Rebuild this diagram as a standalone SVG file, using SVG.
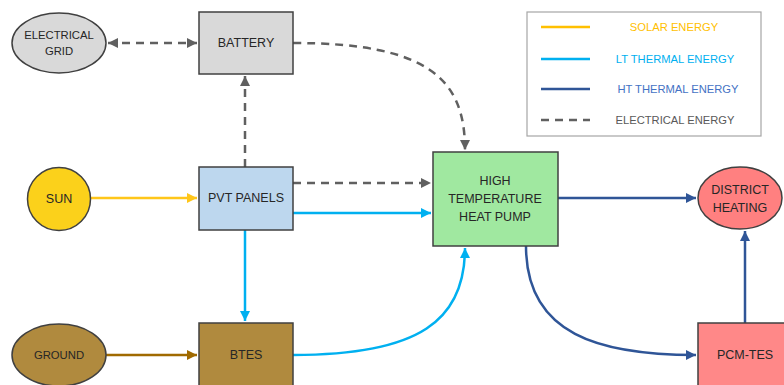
<svg xmlns="http://www.w3.org/2000/svg" width="784" height="385" viewBox="0 0 784 385">
<defs>
<style>
.node{stroke:#404040;stroke-width:1.5}
.t{font-family:"Liberation Sans",Arial,sans-serif;font-size:12.5px;fill:#262626;text-anchor:middle;dominant-baseline:central}
.ts{font-size:11.3px}
.lg{font-family:"Liberation Sans",Arial,sans-serif;font-size:11.2px;text-anchor:middle;dominant-baseline:central}
.el{fill:none;stroke:#606060;stroke-width:2.5;stroke-dasharray:8 6}
.lt{fill:none;stroke:#00B0F0;stroke-width:2.5}
.ht{fill:none;stroke:#2F5597;stroke-width:2.5}
</style>
<marker id="aG" viewBox="0 0 10 10" refX="10" refY="5" markerWidth="12" markerHeight="10" markerUnits="userSpaceOnUse" orient="auto-start-reverse"><path d="M0,0L10,5L0,10z" fill="#606060"/></marker>
<marker id="aY" viewBox="0 0 10 10" refX="10" refY="5" markerWidth="12" markerHeight="10" markerUnits="userSpaceOnUse" orient="auto"><path d="M0,0L10,5L0,10z" fill="#FFC61A"/></marker>
<marker id="aB" viewBox="0 0 10 10" refX="10" refY="5" markerWidth="12" markerHeight="10" markerUnits="userSpaceOnUse" orient="auto"><path d="M0,0L10,5L0,10z" fill="#00B0F0"/></marker>
<marker id="aD" viewBox="0 0 10 10" refX="10" refY="5" markerWidth="12" markerHeight="10" markerUnits="userSpaceOnUse" orient="auto"><path d="M0,0L10,5L0,10z" fill="#2F5597"/></marker>
<marker id="aR" viewBox="0 0 10 10" refX="10" refY="5" markerWidth="12" markerHeight="10" markerUnits="userSpaceOnUse" orient="auto"><path d="M0,0L10,5L0,10z" fill="#A06A00"/></marker>
</defs>
<rect width="784" height="385" fill="#fff"/>

<g id="legend">
<rect x="527" y="12" width="234" height="124" fill="#fff" stroke="#A6A6A6" stroke-width="1.2"/>
<line x1="541" y1="27" x2="590" y2="27" stroke="#FFC000" stroke-width="2.5"/>
<line x1="541" y1="59" x2="590" y2="59" stroke="#00B0F0" stroke-width="2.5"/>
<line x1="541" y1="89" x2="590" y2="89" stroke="#2F5597" stroke-width="2.5"/>
<line x1="541" y1="120" x2="590" y2="120" stroke="#606060" stroke-width="2.5" stroke-dasharray="8 6"/>
<text class="lg" x="674" y="27" fill="#FFC000">SOLAR ENERGY</text>
<text class="lg" x="675" y="59" fill="#00B0F0">LT THERMAL ENERGY</text>
<text class="lg" x="678" y="89" fill="#4472C4">HT THERMAL ENERGY</text>
<text class="lg" x="675" y="120" fill="#595959">ELECTRICAL ENERGY</text>
</g>

<g id="connectors">
<line class="el" x1="108" y1="43" x2="197" y2="43" marker-start="url(#aG)" marker-end="url(#aG)"/>
<path class="el" d="M293,43 C430,43 465,80 465,150" marker-end="url(#aG)"/>
<line class="el" x1="245" y1="167" x2="245" y2="76" marker-end="url(#aG)"/>
<line class="el" x1="293" y1="183" x2="431" y2="183" marker-end="url(#aG)"/>
<line x1="91" y1="198" x2="197" y2="198" stroke="#FFC61A" stroke-width="2.5" marker-end="url(#aY)"/>
<line class="lt" x1="293" y1="213" x2="431" y2="213" marker-end="url(#aB)"/>
<line class="lt" x1="245" y1="230" x2="245" y2="321" marker-end="url(#aB)"/>
<path class="lt" d="M293,355 C420,355 465,320 465,248" marker-end="url(#aB)"/>
<line x1="106" y1="355" x2="197" y2="355" stroke="#A06A00" stroke-width="2.5" marker-end="url(#aR)"/>
<line class="ht" x1="558" y1="198" x2="696" y2="198" marker-end="url(#aD)"/>
<path class="ht" d="M526,246 C526,335 600,355 696,355" marker-end="url(#aD)"/>
<line class="ht" x1="745" y1="323" x2="745" y2="231" marker-end="url(#aD)"/>
</g>

<g id="grid">
<ellipse class="node" cx="59" cy="43" rx="47" ry="30" fill="#D9D9D9"/>
<text class="t ts" x="59" y="35">ELECTRICAL</text>
<text class="t ts" x="59" y="51">GRID</text>
</g>
<g id="battery">
<rect class="node" x="199" y="12" width="94" height="62" fill="#D9D9D9"/>
<text class="t" x="246" y="43">BATTERY</text>
</g>
<g id="sun">
<circle class="node" cx="59" cy="199" r="31.5" fill="#FBD11B"/>
<text class="t" x="59" y="199">SUN</text>
</g>
<g id="pvt">
<rect class="node" x="199" y="167" width="94" height="63" fill="#BDD7EE"/>
<text class="t" x="246" y="198">PVT PANELS</text>
</g>
<g id="heatpump">
<rect class="node" x="433" y="152" width="125" height="94" fill="#A0E8A0"/>
<text class="t" x="495" y="181">HIGH</text>
<text class="t" x="495" y="199">TEMPERATURE</text>
<text class="t" x="495" y="217">HEAT PUMP</text>
</g>
<g id="district">
<ellipse class="node" cx="740" cy="198" rx="42" ry="31" fill="#FF8080"/>
<text class="t" x="740" y="190">DISTRICT</text>
<text class="t" x="740" y="208">HEATING</text>
</g>
<g id="ground">
<ellipse class="node" cx="59" cy="355" rx="47" ry="31" fill="#B08A3E"/>
<text class="t ts" x="59" y="355">GROUND</text>
</g>
<g id="btes">
<rect class="node" x="199" y="323" width="94" height="66" fill="#B08A3E"/>
<text class="t" x="246" y="355">BTES</text>
</g>
<g id="pcmtes">
<rect class="node" x="698" y="323" width="94" height="66" fill="#FF8888"/>
<text class="t" x="745" y="355">PCM-TES</text>
</g>
</svg>
